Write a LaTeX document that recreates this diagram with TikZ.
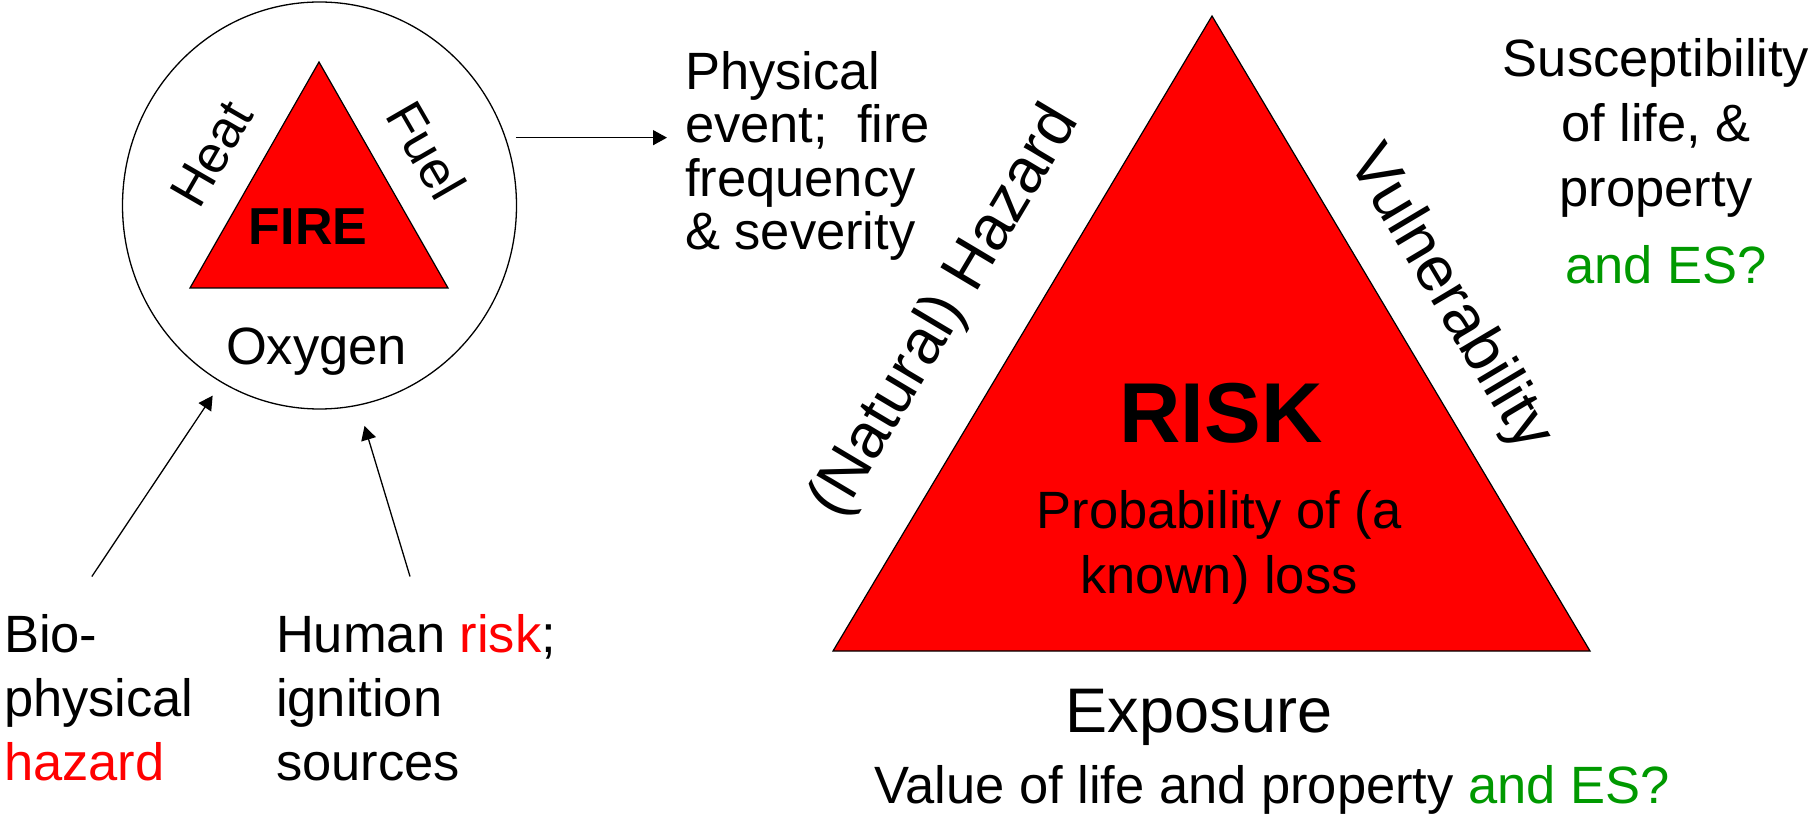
\documentclass[tikz,border=0pt]{standalone}
\usepackage{fontspec}
\setmainfont{Liberation Sans}
\usetikzlibrary{shapes.geometric,arrows.meta}
\definecolor{fire}{RGB}{255,0,0}
\definecolor{esgreen}{RGB}{0,153,0}

\begin{document}
\begin{tikzpicture}[x=0.5pt, y=-0.5pt]

  \tikzset{Txt/.style = {
  font = \fontsize{26.25}{32}\selectfont,
  inner sep = 0pt,
  outer sep = 0pt}}
  \tikzset{Side/.style = {
  Txt,
  font = \fontsize{31.5}{36}\selectfont}}
  \tikzset{Arr/.style = {
  -{Triangle[length=7pt, width=7.5pt]},
  line width = 0.65pt}}
  \tikzset{Tri/.style = {
  fill = fire,
  draw = black,
  line width = 0.6pt}}

  \useasboundingbox (0,0) rectangle (1813,817);

  \begin{scope}
    \node[ellipse, draw, line width=0.65pt, minimum width=197pt,
      minimum height=203.5pt, inner sep=0pt] (Ring) at (319.5,205.5) {};
    \draw[Tri] (319,62) -- (190,288) -- (448,288) -- cycle;
    \node[Txt, anchor=base, font=\fontsize{26}{30}\bfseries] (Fire) at (308,245) {FIRE};
    \node[Txt, rotate=60] (Heat) at (211.7,154) {Heat};
    \node[Txt, rotate=-60] (Fuel) at (426.7,150) {Fuel};
    \node[Txt, anchor=base] (Oxygen) at (316.5,365) {Oxygen};
  \end{scope};

  \begin{scope}
    \node[Txt, align=left, anchor=base west] (Bio) at (4,780)
      {Bio-\\physical\\\textcolor{fire}{hazard}};
    \node[Txt, align=left, anchor=base west] (Human) at (276,780)
      {Human \textcolor{fire}{risk};\\ignition\\sources};
    \node[Txt, align=left, anchor=base west, font=\fontsize{26.25}{26.8}\selectfont]
      (Event) at (685,250) {Physical\\event;\ \ fire\\frequency\\\& severity};
    \draw[Arr, shorten >=7.8pt] ([xshift=-3.5pt, yshift=18.7pt]Bio.north) -- (Ring.241);
    \draw[Arr, shorten >=10.6pt] ([xshift=-3pt, yshift=18.7pt]Human.north) -- (Ring.281);
    \draw[Arr] ([xshift=5pt]Ring.20) -- ([xshift=-9pt]Ring.20 -| Event.west);
  \end{scope};

  \begin{scope}
    \draw[Tri] (1212,16) -- (833,651) -- (1590,651) -- cycle;
    \node[Txt, anchor=base, font=\fontsize{42.5}{48}\bfseries] (Risk) at (1221,442.7) {RISK};
    \node[Txt, align=center, anchor=base, font=\fontsize{26.25}{32.5}\selectfont]
      (Prob) at (1219,593.3) {Probability of (a\\known) loss};
    \node[Side, rotate=59.2] (Hazard) at (946,312) {(Natural) Hazard};
    \node[Side, rotate=-59.2] (Vuln) at (1449,299) {Vulnerability};
    \node[Side, anchor=base] (Expo) at (1199,732.7) {Exposure};
    \node[Txt, anchor=base] (Value) at (1272,803.3)
      {Value of life and property \textcolor{esgreen}{and ES?}};
    \node[Txt, align=center, anchor=base, font=\fontsize{26.25}{32.5}\selectfont]
      (Susc) at (1656,283.3)
      {Susceptibility\\of life, \&\\property\\[5.8pt]\hspace*{10pt}\textcolor{esgreen}{and ES?}};
  \end{scope};
\end{tikzpicture}
\end{document}
